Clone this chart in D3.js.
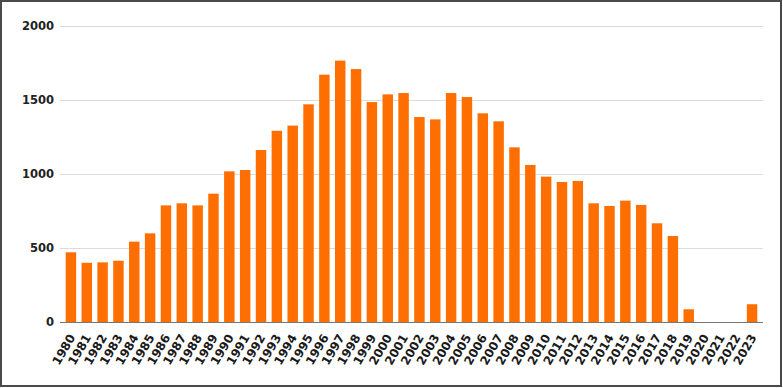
<!DOCTYPE html>
<html>
<head>
<meta charset="utf-8">
<script src="https://cdn.jsdelivr.net/npm/d3@7"></script>
<style>
  body { margin: 0; background: #fff; }
  svg { display: block; font-family: "DejaVu Sans", Verdana, sans-serif; }
</style>
</head>
<body>
<svg id="chart"></svg>
<script>
// 1. Data
const years = d3.range(1980, 2024).map(String);
const values = [
  471, 400, 403, 414, 543, 599, 788, 802, 788, 867,
  1018, 1027, 1162, 1292, 1327, 1471, 1671, 1766, 1709, 1486,
  1538, 1547, 1385, 1369, 1547, 1520, 1410, 1356, 1180, 1061,
  982, 946, 953, 802, 784, 820, 791, 667, 581, 86,
  0, 0, 0, 120
];
const yTicks = [0, 500, 1000, 1500, 2000];

const data = years.map((y, i) => ({ year: y, value: values[i] }));

// 2. SVG setup
const W = 783, H = 388;
const svg = d3.select("#chart").attr("width", W).attr("height", H);

const plot = { left: 60, right: 763, top: 26, bottom: 322 };

// outer frame
svg.append("rect")
  .attr("x", 1).attr("y", 1)
  .attr("width", 780).attr("height", 385)
  .attr("fill", "#fff")
  .attr("stroke", "#4a4a4a")
  .attr("stroke-width", 2);

// 3. Scales
const x = d3.scaleBand().domain(years).range([63, 760]).paddingInner(0.34).paddingOuter(0.17);
const y = d3.scaleLinear().domain([0, 2000]).range([plot.bottom, plot.top]);

// 4. Grid lines + y labels
const grid = svg.append("g");
grid.selectAll("line")
  .data(yTicks.filter((d) => d > 0))
  .join("line")
  .attr("x1", plot.left).attr("x2", plot.right)
  .attr("y1", (d) => y(d) + 0.5).attr("y2", (d) => y(d) + 0.5)
  .attr("stroke", "#dcdcdc")
  .attr("stroke-width", 1);

svg.append("g").selectAll("text")
  .data(yTicks)
  .join("text")
  .attr("x", 54)
  .attr("y", (d) => y(d))
  .attr("dy", "0.36em")
  .attr("text-anchor", "end")
  .attr("font-size", "11.5px")
  .attr("font-weight", "bold")
  .attr("fill", "#222")
  .text((d) => d);

// 5. Bars
svg.append("g").selectAll("rect")
  .data(data)
  .join("rect")
  .attr("x", (d) => x(d.year))
  .attr("y", (d) => y(d.value))
  .attr("width", x.bandwidth())
  .attr("height", (d) => y(0) - y(d.value))
  .attr("fill", "#ff6e00");

// baseline
svg.append("line")
  .attr("x1", plot.left).attr("x2", plot.right)
  .attr("y1", plot.bottom + 0.5).attr("y2", plot.bottom + 0.5)
  .attr("stroke", "#777")
  .attr("stroke-width", 1);

// 6. X labels, rotated
svg.append("g").selectAll("text")
  .data(years)
  .join("text")
  .attr("transform", (d) => `translate(${x(d) + x.bandwidth() / 2 + 1},${plot.bottom + 13}) rotate(-60)`)
  .attr("text-anchor", "end")
  .attr("dy", "0.36em")
  .attr("font-size", "12px")
  .attr("font-weight", "bold")
  .attr("fill", "#1a1a1a")
  .text((d) => d);
</script>
</body>
</html>
